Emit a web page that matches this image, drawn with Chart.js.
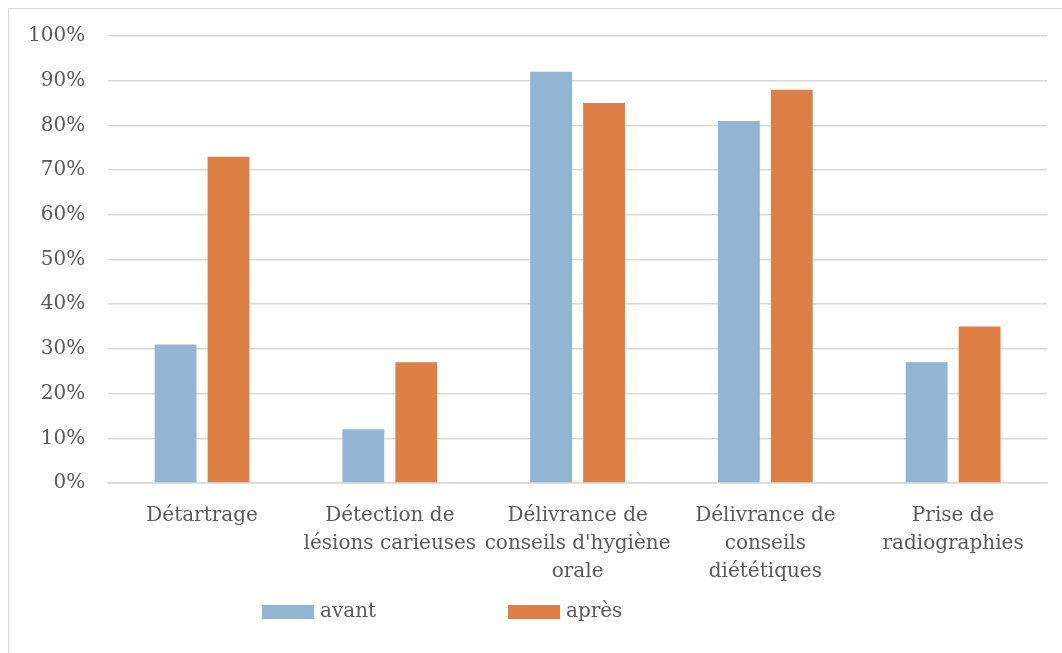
<!DOCTYPE html>
<html>
<head>
<meta charset="utf-8">
<script src="https://cdn.jsdelivr.net/npm/chart.js@4.4.1/dist/chart.umd.min.js"></script>
<style>
  html, body { margin: 0; padding: 0; background: #ffffff; }
  #wrap { position: relative; width: 1062px; height: 653px; overflow: hidden; }
  #frame { position: absolute; left: 8px; top: 8px; width: 1200px; height: 800px; border-left: 1px solid #d9d9d9; border-top: 1px solid #d9d9d9; }
  canvas { position: absolute; left: 0; top: 0; }
</style>
</head>
<body>
<div id="wrap">
  <div id="frame"></div>
  <canvas id="c" width="1062" height="653"></canvas>
</div>
<script>
const categories = [
  "Détartrage",
  ["Détection de", "lésions carieuses"],
  ["Délivrance de", "conseils d'hygiène", "orale"],
  ["Délivrance de", "conseils", "diététiques"],
  ["Prise de", "radiographies"]
];
const seriesNames = ["avant", "après"];
const avant = [31, 12, 92, 81, 27];
const apres = [73, 27, 85, 88, 35];
const yTicks = [0, 10, 20, 30, 40, 50, 60, 70, 80, 90, 100];

const FONT = "'DejaVu Serif', 'Liberation Serif', serif";
const TEXT = "#595959";
const colors = ["#93B5D4", "#DE8045"];

const customLegend = {
  id: 'customLegend',
  afterDraw(chart) {
    const ctx = chart.ctx;
    const ds = chart.data.datasets;
    ctx.save();
    ctx.font = "20px " + FONT;
    ctx.textBaseline = 'middle';
    ctx.textAlign = 'left';
    const y = 612;
    const starts = [262, 508];
    ds.forEach((d, i) => {
      const x = starts[i];
      ctx.fillStyle = d.backgroundColor;
      ctx.fillRect(x, y - 7, 52, 14);
      ctx.fillStyle = TEXT;
      ctx.fillText(d.label, x + 58, y);
    });
    ctx.restore();
  }
};

new Chart(document.getElementById('c'), {
  type: 'bar',
  data: {
    labels: categories,
    datasets: [
      { label: seriesNames[0], data: avant, backgroundColor: colors[0], borderWidth: 0,
        categoryPercentage: 0.564, barPercentage: 0.79 },
      { label: seriesNames[1], data: apres, backgroundColor: colors[1], borderWidth: 0,
        categoryPercentage: 0.564, barPercentage: 0.79 }
    ]
  },
  options: {
    responsive: false,
    animation: false,
    devicePixelRatio: 1,
    layout: { padding: { left: 5, right: 15, top: 36, bottom: 48 } },
    plugins: {
      legend: { display: false },
      tooltip: { enabled: false }
    },
    scales: {
      x: {
        grid: { display: false, drawTicks: false },
        border: { display: true, color: '#d9d9d9', width: 1.5 },
        ticks: { color: TEXT, font: { family: FONT, size: 20, lineHeight: 1.4 }, padding: 19, maxRotation: 0, autoSkip: false }
      },
      y: {
        min: 0, max: 100,
        afterBuildTicks(axis) { axis.ticks = yTicks.map(v => ({ value: v })); },
        grid: { color: '#d9d9d9', lineWidth: 1.5, drawTicks: false },
        border: { display: false },
        ticks: { color: TEXT, font: { family: FONT, size: 20 }, padding: 23, callback: v => v + '%' }
      }
    }
  },
  plugins: [customLegend]
});
</script>
</body>
</html>
